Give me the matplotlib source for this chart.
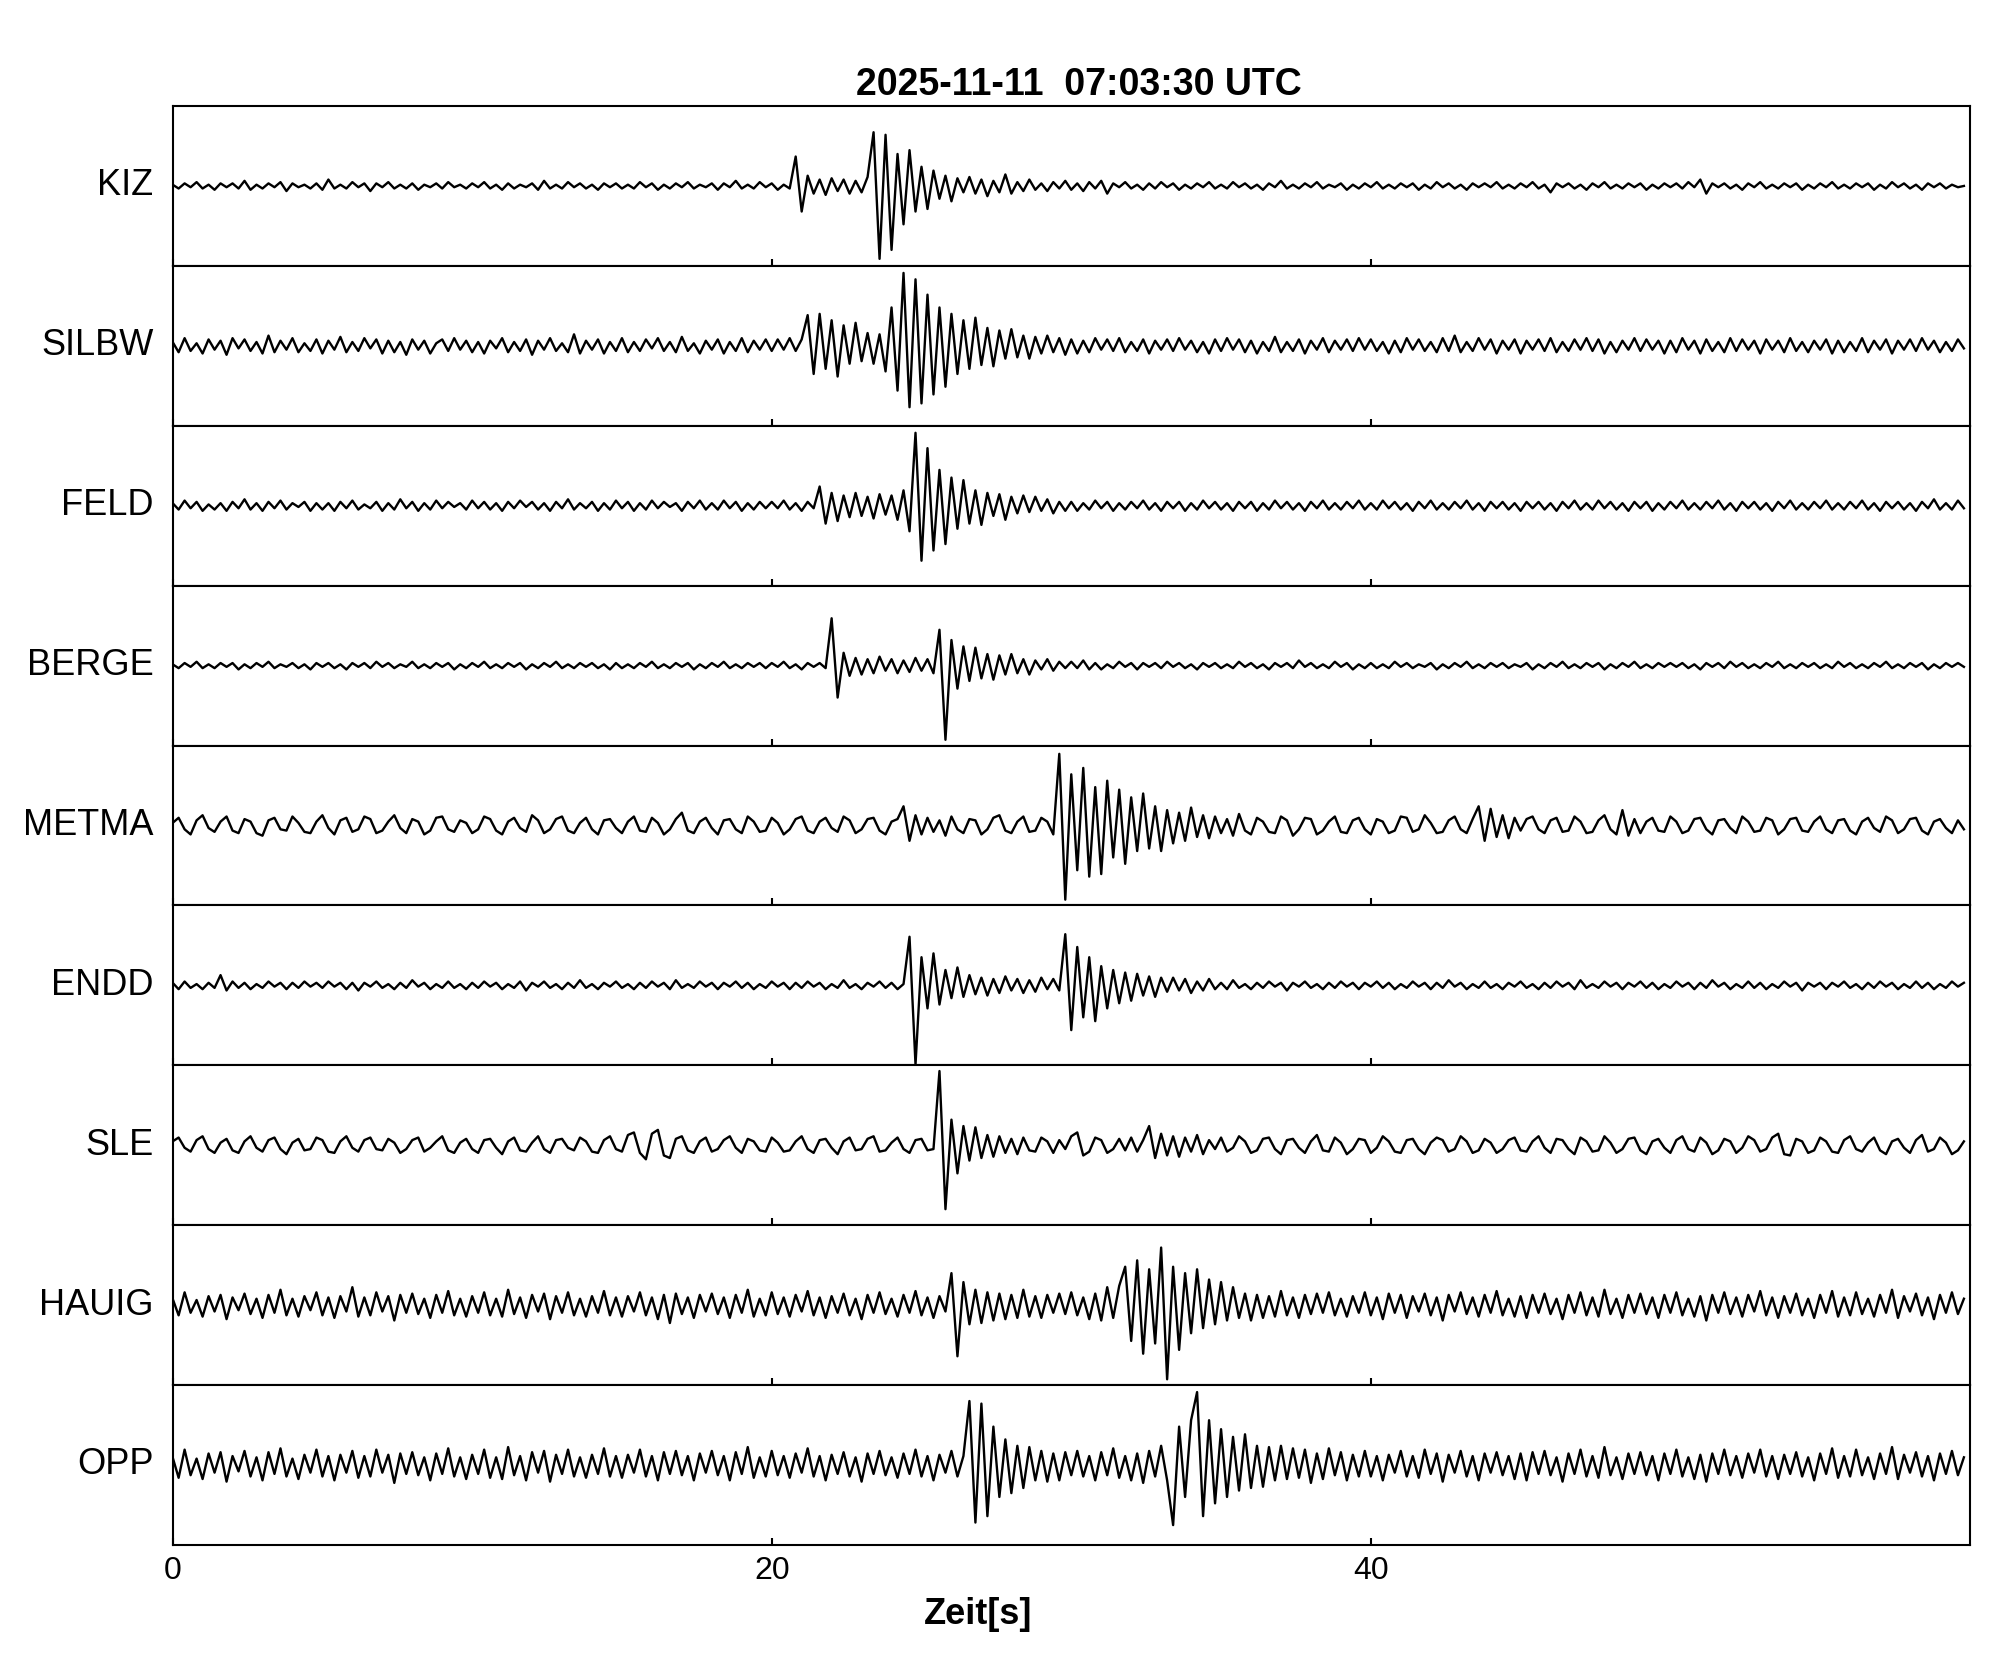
import numpy as np
import matplotlib.pyplot as plt
import matplotlib as mpl

mpl.rcParams.update(mpl.rcParamsDefault)
plt.rcParams['font.family'] = ['Liberation Sans', 'DejaVu Sans']
plt.rcParams['xtick.direction'] = 'in'
plt.rcParams['ytick.direction'] = 'in'
plt.rcParams['axes.linewidth'] = 1.5
plt.rcParams['xtick.major.width'] = 1.5
plt.rcParams['xtick.major.size'] = 5
plt.rcParams['xtick.labelsize'] = 23
plt.rcParams['figure.facecolor'] = 'white'

dt = 0.2
title = "2025-11-11  07:03:30 UTC"
stations = ["KIZ", "SILBW", "FELD", "BERGE", "METMA", "ENDD", "SLE", "HAUIG", "OPP"]
xticks = [0, 20, 40]

kiz = [
    1, -2, 2, -1, 3, -2, 1, -3, 2, -1, 2, -2, 4, -3, 1, -2, 2, -1, 3, -4, 2, -1, 1, -2, 2,
    -3, 5, -2, 1, -2, 3, -1, 2, -4, 2, -1, 3, -2, 1, -2, 2, -3, 1, -1, 2, -2, 3, -1, 1, -2,
    2, -1, 3, -2, 1, -3, 2, -2, 1, -1, 2, -3, 4, -2, 1, -2, 3, -1, 2, -2, 1, -3, 2, -1, 2,
    -2, 1, -2, 3, -1, 2, -3, 1, -2, 2, -1, 3, -2, 1, -1, 2, -3, 2, -1, 4, -2, 1, -2, 3, -1,
    2, -3, 1, -2, 23, -20, 8, -6, 5, -7, 6, -4, 5, -6, 4, -5, 7, 42, -57, 40, -50, 25, -30, 28, -20,
    15, -18, 12, -10, 8, -12, 6, -5, 7, -6, 5, -8, 4, -5, 9, -6, 3, -4, 5, -3, 2, -4, 3, -2, 4,
    -3, 2, -4, 3, -2, 4, -6, 2, -1, 3, -2, 1, -3, 2, -2, 3, -1, 2, -3, 1, -2, 2, -1, 3, -2,
    1, -2, 3, -1, 2, -2, 1, -3, 2, -1, 4, -2, 1, -2, 2, -1, 3, -2, 1, -1, 2, -3, 1, -2, 2,
    -1, 3, -2, 1, -2, 2, -1, 2, -3, 1, -2, 3, -1, 2, -2, 1, -3, 2, -1, 2, -1, 3, -2, 1, -2,
    2, -1, 3, -2, 1, -5, 2, -1, 2, -2, 1, -3, 2, -1, 3, -2, 1, -2, 2, -1, 2, -3, 1, -2, 2,
    -1, 2, -2, 3, -1, 5, -6, 2, -1, 2, -2, 1, -3, 2, -1, 3, -2, 1, -2, 2, -1, 2, -3, 1, -2,
    2, -1, 3, -2, 1, -2, 2, -1, 2, -3, 1, -2, 3, -1, 2, -2, 1, -3, 2, -1, 2, -2, 1, -1, 0,
]
silbw = [
    3, -5, 6, -4, 2, -6, 5, -3, 4, -7, 6, -2, 5, -4, 3, -6, 8, -5, 4, -3, 6, -5, 2, -4, 5,
    -6, 4, -3, 7, -5, 3, -4, 6, -2, 5, -6, 4, -5, 3, -7, 5, -3, 4, -6, 2, 5, -4, 6, -3, 4,
    -5, 3, -6, 4, -2, 6, -5, 3, -4, 5, -7, 4, -3, 6, -4, 2, -5, 9, -6, 4, -3, 5, -6, 3, -4,
    6, -5, 3, -4, 5, -2, 6, -4, 3, -5, 7, -4, 2, -6, 4, -3, 5, -6, 3, -4, 6, -5, 4, -3, 5,
    -4, 5, -3, 6, -4, 5, 24, -22, 25, -18, 20, -24, 16, -14, 18, -12, 10, -14, 9, -20, 30, -35, 57, -48, 52,
    -45, 40, -38, 30, -32, 25, -22, 20, -18, 22, -15, 14, -16, 12, -10, 13, -9, 8, -10, 7, -6, 8, -5, 6, -7,
    5, -6, 4, -5, 6, -3, 5, -4, 6, -5, 3, -4, 5, -6, 4, -3, 5, -4, 6, -3, 4, -5, 3, -6, 5,
    -4, 6, -3, 5, -5, 4, -6, 3, -4, 7, -5, 3, -4, 5, -6, 4, -3, 6, -5, 4, -3, 5, -4, 6, -3,
    5, -4, 3, -6, 4, -5, 6, -3, 5, -4, 3, -5, 6, -4, 8, -5, 3, -4, 6, -3, 5, -6, 4, -3, 5,
    -6, 4, -3, 5, -4, 6, -5, 3, -4, 5, -3, 6, -4, 5, -6, 3, -5, 4, -3, 6, -4, 5, -3, 4, -6,
    4, -5, 6, -3, 4, -6, 5, -4, 3, -5, 6, -4, 5, -3, 4, -6, 5, -3, 4, -5, 6, -4, 3, -5, 4,
    -3, 5, -6, 4, -5, 3, -4, 6, -5, 4, -3, 5, -6, 4, -3, 5, -4, 6, -3, 4, -5, 3, -4, 5, -2,
]
feld = [
    2, -3, 4, -2, 3, -4, 1, -3, 2, -4, 3, -2, 5, -3, 2, -4, 3, -2, 4, -3, 2, -1, 3, -4, 2,
    -3, 2, -4, 3, -2, 4, -3, 1, -2, 3, -4, 2, -3, 5, -2, 3, -4, 2, -3, 4, -2, 3, -1, 2, -3,
    4, -2, 3, -3, 2, -4, 3, -2, 4, -1, 3, -3, 2, -4, 3, -2, 5, -3, 2, -2, 3, -4, 2, -3, 4,
    -2, 3, -4, 2, -3, 4, -2, 3, -1, 2, -4, 3, -2, 4, -3, 2, -3, 4, -2, 3, -4, 2, -3, 3, -2,
    3, -2, 4, -3, 2, -4, 3, -2, 15, -14, 10, -12, 8, -9, 10, -8, 7, -10, 9, -7, 8, -11, 12, -20, 57,
    -43, 45, -35, 28, -30, 22, -18, 20, -14, 12, -15, 10, -8, 9, -11, 7, -6, 8, -5, 7, -4, 5, -6, 3, -4,
    3, -4, 2, -3, 4, -2, 3, -4, 2, -3, 3, -2, 4, -3, 2, -4, 3, -2, 3, -4, 2, -3, 4, -2, 3,
    -3, 2, -4, 3, -2, 3, -4, 2, -3, 4, -2, 3, -3, 2, -4, 3, -2, 4, -3, 2, -3, 3, -2, 4, -3,
    2, -3, 4, -2, 3, -3, 2, -4, 3, -2, 4, -3, 2, -3, 3, -2, 4, -3, 2, -4, 3, -2, 3, -3, 2,
    -4, 3, -2, 3, -3, 2, -4, 3, -2, 4, -3, 2, -3, 4, -2, 3, -3, 2, -4, 3, -2, 3, -4, 2, -3,
    3, -2, 4, -3, 2, -3, 3, -2, 4, -3, 2, -4, 3, -2, 3, -3, 2, -4, 3, -2, 4, -3, 2, -3, 3,
    -2, 4, -3, 2, -3, 3, -2, 4, -3, 2, -4, 3, -2, 3, -3, 2, -4, 3, -2, 5, -3, 2, -3, 4, -2,
]
berge = [
    1, -2, 2, -1, 3, -2, 1, -2, 2, -1, 2, -3, 1, -2, 2, -1, 3, -2, 1, -1, 2, -2, 1, -3, 2,
    -1, 2, -2, 1, -3, 2, -1, 2, -2, 3, -1, 2, -2, 1, -1, 3, -2, 1, -2, 2, -1, 2, -3, 1, -2,
    2, -1, 3, -2, 1, -2, 2, -1, 2, -3, 1, -2, 2, -1, 3, -2, 1, -2, 2, -1, 2, -2, 1, -3, 2,
    -2, 1, -2, 2, -1, 3, -2, 1, -2, 2, -1, 2, -3, 1, -2, 2, -1, 3, -2, 1, -2, 2, -1, 2, -2,
    2, -1, 3, -2, 1, -3, 2, -1, 2, -2, 37, -25, 10, -8, 6, -7, 5, -6, 7, -4, 5, -6, 4, -5, 6,
    -4, 5, -6, 28, -58, 20, -18, 15, -12, 14, -10, 9, -11, 8, -7, 9, -6, 5, -7, 4, -3, 5, -4, 3, -2,
    3, -2, 4, -3, 2, -3, 1, -2, 3, -1, 2, -3, 2, -1, 2, -2, 3, -1, 2, -2, 1, -3, 2, -1, 2,
    -2, 1, -2, 3, -1, 2, -2, 1, -3, 2, -1, 2, -2, 4, -1, 2, -2, 1, -2, 3, -1, 2, -3, 1, -2,
    2, -2, 1, -2, 3, -1, 2, -2, 1, -1, 2, -3, 1, -2, 2, -1, 3, -2, 1, -2, 2, -1, 2, -2, 1,
    -1, 2, -3, 1, -2, 2, -1, 3, -2, 1, -2, 2, -1, 2, -3, 1, -2, 2, -1, 3, -2, 1, -2, 2, -1,
    2, -1, 2, -2, 1, -3, 2, -1, 2, -2, 3, -1, 2, -2, 1, -2, 2, -1, 3, -2, 1, -2, 2, -1, 2,
    -2, 1, -2, 3, -1, 2, -2, 1, -2, 2, -1, 3, -2, 1, -2, 2, -1, 2, -3, 1, -2, 2, -1, 2, -1,
]
metma = [
    2, 6, -3, -7, 4, 8, -2, -5, 3, 7, -4, -6, 5, 3, -6, -8, 4, 6, -3, -4, 7, 2, -5, -6, 3,
    8, -2, -7, 4, 6, -5, -3, 7, 5, -6, -4, 3, 8, -2, -6, 5, 3, -7, -4, 6, 7, -3, -5, 4, 2,
    -6, -3, 7, 5, -4, -7, 3, 6, -2, -5, 8, 4, -6, -3, 5, 7, -4, -6, 2, 6, -3, -7, 4, 5, -2,
    -6, 3, 7, -4, -5, 6, 2, -7, -3, 5, 10, -4, -6, 3, 6, -2, -7, 4, 5, -3, -6, 7, 3, -5, -4,
    6, 2, -7, -3, 5, 7, -4, -6, 3, 6, -2, -5, 7, 4, -6, -3, 5, 6, -4, -7, 3, 5, 15, -12, 8,
    -7, 6, -5, 4, -8, 7, -3, -6, 5, 4, -7, -3, 6, 8, -4, -6, 3, 7, -5, -4, 6, 3, -7, 56, -58,
    40, -35, 45, -40, 30, -38, 35, -25, 28, -30, 22, -20, 25, -18, 15, -20, 12, -14, 10, -12, 14, -9, 8, -10, 7,
    -6, 5, -8, 9, -4, -7, 6, 3, -5, -6, 7, 4, -8, -3, 6, 5, -7, -4, 3, 7, -5, -6, 4, 6, -3,
    -7, 5, 3, -6, -4, 7, 6, -5, -3, 8, 2, -6, -5, 4, 7, -3, -6, 5, 15, -12, 13, -9, 8, -10, 6,
    -4, 5, 7, -3, -6, 4, 6, -5, -4, 7, 3, -6, -5, 4, 8, -3, -7, 12, -8, 5, -6, 3, 6, -4, -5,
    7, 3, -6, -4, 5, 6, -3, -7, 4, 5, -2, -6, 7, 3, -5, -4, 6, 4, -7, -3, 5, 6, -4, -5, 3,
    7, -3, -6, 4, 5, -4, -7, 3, 6, -2, -5, 7, 4, -6, -3, 5, 6, -4, -7, 3, 5, -2, -6, 4, -3,
]
endd = [
    2, -3, 3, -2, 1, -3, 2, -2, 8, -4, 3, -2, 2, -3, 1, -2, 3, -1, 2, -3, 2, -2, 3, -1, 2,
    -2, 3, -1, 2, -3, 2, -4, 2, -1, 3, -2, 1, -3, 2, -2, 4, -1, 2, -3, 1, -2, 3, -2, 1, -3,
    2, -2, 3, -1, 2, -3, 1, -2, 3, -4, 2, -1, 3, -2, 1, -3, 2, -2, 4, -2, 1, -3, 2, -1, 3,
    -2, 1, -3, 2, -2, 3, -1, 2, -3, 4, -2, 1, -2, 3, -1, 2, -3, 2, -1, 3, -2, 2, -3, 1, -2,
    3, -1, 2, -3, 2, -2, 3, -1, 2, -3, 1, -2, 4, -2, 1, -3, 2, -1, 3, -2, 2, -3, 1, 38, -62,
    22, -18, 25, -15, 12, -10, 14, -9, 8, -7, 6, -8, 5, -6, 7, -4, 5, -6, 4, -5, 6, -3, 5, -4, 40,
    -35, 30, -25, 22, -28, 15, -18, 12, -14, 10, -12, 9, -8, 7, -9, 6, -5, 6, -4, 5, -6, 3, -4, 5, -3,
    2, -3, 4, -2, 1, -3, 2, -2, 3, -1, 2, -4, 2, -1, 3, -2, 1, -3, 2, -2, 3, -1, 2, -3, 2,
    -1, 3, -2, 2, -3, 1, -2, 3, -1, 2, -3, 2, -2, 4, -1, 2, -3, 1, -2, 3, -2, 1, -3, 2, -1,
    3, -2, 1, -3, 2, -2, 3, -1, 2, -3, 4, -2, 1, -2, 3, -1, 2, -3, 2, -1, 3, -2, 2, -3, 1,
    -2, 3, -1, 2, -3, 2, -2, 4, -1, 2, -3, 1, -2, 3, -2, 2, -3, 1, -2, 3, -1, 2, -4, 2, -1,
    2, -3, 2, -1, 3, -2, 1, -3, 2, -2, 3, -1, 2, -3, 1, -2, 3, -2, 2, -3, 1, -2, 3, -1, 2,
]
sle = [
    3, 6, -2, -5, 4, 7, -3, -6, 2, 5, -4, -6, 3, 7, -2, -5, 4, 6, -3, -7, 2, 5, -4, -3, 6,
    4, -5, -6, 3, 7, -2, -5, 4, 6, -3, -4, 5, 2, -6, -3, 4, 6, -5, -2, 3, 7, -4, -6, 2, 5,
    -3, -6, 4, 5, -2, -7, 3, 6, -4, -5, 2, 7, -3, -6, 4, 5, -2, -4, 6, 3, -5, -6, 4, 7, -3,
    -5, 8, 10, -6, -11, 9, 12, -8, -10, 5, 7, -4, -6, 3, 6, -5, -3, 4, 7, -2, -6, 5, 3, -4, -5,
    6, 2, -5, -4, 3, 7, -3, -6, 4, 5, -2, -7, 3, 6, -4, -3, 5, 7, -5, -4, 2, 6, -3, -6, 4,
    5, -4, -3, 58, -50, 20, -22, 15, -12, 14, -10, 8, -9, 7, -6, 5, -7, 6, -4, -5, 6, 3, -6, 4, -3,
    7, 10, -8, -5, 6, 4, -6, -3, 5, -4, 6, -5, 4, 15, -10, 9, -8, 7, -9, 6, -5, 8, -7, 4, -3,
    6, -5, -2, 7, 3, -6, -4, 5, 6, -3, -7, 4, 5, -2, -6, 3, 8, -4, -5, 6, 2, -7, -3, 5, 4,
    -6, -2, 7, 3, -5, -6, 4, 5, -3, -7, 2, 6, 4, -5, -3, 7, 3, -6, -4, 5, 2, -6, -3, 4, 6,
    -4, -5, 3, 7, -2, -6, 5, 4, -3, -7, 6, 3, -5, -4, 7, 2, -6, -3, 5, 6, -4, -7, 3, 5, -2,
    -6, 4, 7, -3, -5, 6, 2, -7, -4, 5, 3, -6, -2, 7, 4, -5, -3, 6, 9, -7, -8, 5, 3, -6, -4,
    6, 3, -5, -6, 4, 7, -3, -5, 2, 6, -4, -7, 3, 5, -2, -6, 4, 8, -5, -3, 6, 2, -7, -4, 3,
]
hauig = [
    5, -8, 10, -6, 4, -9, 7, -5, 8, -11, 6, -4, 9, -7, 5, -10, 8, -6, 12, -8, 5, -9, 7, -4, 10,
    -8, 6, -10, 7, -5, 14, -9, 6, -8, 10, -5, 7, -12, 8, -6, 9, -7, 5, -10, 8, -6, 11, -8, 5, -9,
    7, -6, 10, -8, 5, -9, 12, -7, 6, -10, 8, -5, 9, -11, 7, -6, 10, -8, 5, -9, 7, -6, 11, -8, 6,
    -9, 7, -5, 10, -8, 6, -11, 8, -14, 9, -7, 6, -10, 8, -5, 9, -7, 6, -10, 8, -6, 12, -9, 5, -8,
    10, -7, 6, -9, 8, -5, 11, -8, 6, -10, 7, -6, 9, -8, 5, -11, 8, -6, 10, -7, 5, -9, 8, -6, 11,
    -8, 6, -10, 7, -5, 25, -40, 18, -15, 12, -14, 10, -12, 9, -11, 8, -10, 12, -9, 7, -10, 8, -6, 9, -7,
    10, -8, 6, -11, 9, -12, 14, -10, 15, 30, -28, 35, -38, 28, -30, 45, -58, 30, -35, 25, -22, 28, -18, 20, -15,
    18, -12, 14, -10, 9, -12, 8, -10, 7, -9, 11, -8, 6, -10, 8, -7, 9, -6, 10, -8, 5, -9, 7, -6, 10,
    -8, 6, -11, 9, -6, 8, -10, 7, -5, 9, -8, 6, -12, 8, -5, 10, -7, 6, -9, 8, -6, 11, -8, 5, -9,
    7, -10, 8, -6, 9, -7, 5, -11, 8, -6, 10, -8, 6, -9, 12, -7, 5, -10, 8, -6, 9, -7, 6, -10, 8,
    -6, 10, -8, 5, -9, 7, -12, 8, -6, 10, -7, 6, -9, 8, -5, 11, -8, 6, -10, 7, -6, 9, -8, 5, -10,
    8, -6, 11, -9, 6, -8, 10, -7, 5, -9, 8, -6, 12, -10, 7, -5, 9, -8, 6, -11, 8, -6, 10, -7, 5,
]
opp = [
    6, -10, 12, -8, 5, -11, 9, -6, 10, -13, 7, -5, 11, -9, 6, -12, 10, -7, 13, -9, 5, -11, 8, -6, 12,
    -9, 7, -12, 8, -6, 11, -10, 7, -9, 12, -6, 8, -14, 9, -7, 10, -8, 6, -12, 9, -7, 13, -9, 6, -11,
    8, -7, 12, -10, 6, -11, 14, -8, 7, -12, 10, -6, 11, -13, 8, -7, 12, -9, 6, -10, 8, -7, 13, -9, 7,
    -10, 8, -6, 12, -9, 7, -12, 10, -7, 11, -8, 7, -12, 9, -6, 11, -8, 7, -12, 10, -7, 14, -10, 6, -9,
    11, -8, 7, -10, 9, -6, 13, -9, 7, -12, 8, -7, 10, -9, 6, -13, 9, -7, 11, -8, 6, -10, 9, -7, 12,
    -9, 7, -12, 8, -6, 11, -9, 7, 50, -45, 48, -40, 30, -25, 20, -22, 15, -18, 14, -12, 11, -13, 9, -12, 10,
    -8, 11, -9, 7, -12, 10, -8, 13, -10, 7, -12, 9, -14, 11, -9, 15, -12, -47, 30, -25, 35, 57, -40, 35, -30,
    28, -25, 22, -20, 24, -18, 15, -17, 14, -12, 15, -11, 13, -10, 12, -14, 9, -11, 13, -8, 10, -12, 8, -9, 11,
    -9, 7, -12, 8, -6, 11, -9, 7, -10, 12, -7, 9, -13, 8, -6, 11, -9, 7, -12, 9, -6, 10, -8, 7, -11,
    9, -12, 10, -7, 11, -8, 6, -13, 9, -7, 12, -9, 7, -10, 14, -8, 6, -11, 9, -7, 10, -8, 7, -12, 9,
    -7, 12, -9, 6, -11, 8, -13, 9, -7, 12, -8, 7, -10, 9, -6, 12, -9, 7, -11, 8, -7, 10, -9, 6, -12,
    9, -7, 13, -10, 7, -9, 12, -8, 6, -11, 9, -7, 14, -11, 8, -6, 10, -9, 7, -12, 9, -7, 11, -8, 6,
]
traces = [kiz, silbw, feld, berge, metma, endd, sle, hauig, opp]

fig, axes = plt.subplots(len(stations), 1, sharex=True, figsize=(20.05, 16.8), dpi=100)
fig.subplots_adjust(left=0.0861, right=0.9825, top=0.9369, bottom=0.0804, hspace=0)

for ax, name, tr in zip(axes, stations, traces):
    y = np.array(tr, dtype=float)
    t = np.arange(len(y)) * dt
    ax.plot(t, y, color='black', lw=1.7)
    ax.set_ylim(-62.5, 62.5)
    ax.set_yticks([])
    ax.tick_params(axis='x', bottom=True, top=False)
    ax.text(-0.0107, 0.5, name, transform=ax.transAxes, ha='right', va='center', fontsize=26)

axes[-1].set_xlim(0, 60)
axes[-1].set_xticks(xticks)
axes[-1].tick_params(axis='x', pad=8)

fig.text(0.538, 0.9495, title, ha='center', va='center', fontsize=27, fontweight='bold')
fig.text(0.488, 0.0387, "Zeit[s]", ha='center', va='center', fontsize=26, fontweight='bold')

fig.savefig('out.png', dpi=100)
